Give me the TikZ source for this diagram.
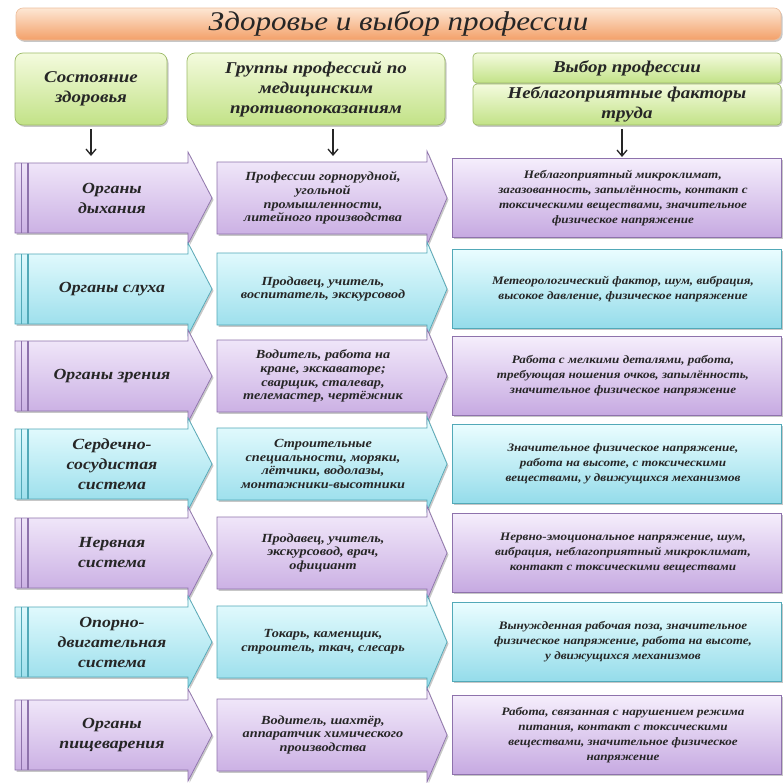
\documentclass[tikz,border=0pt]{standalone}
\usepackage{fontspec}
\setmainfont{Liberation Serif}[FakeStretch=1.15]
\usetikzlibrary{arrows.meta,shadows}
\definecolor{purT}{HTML}{F5EEFC}
\definecolor{purB}{HTML}{C6A9E1}
\definecolor{purD}{HTML}{8E72AC}
\definecolor{cyaT}{HTML}{EAFDFF}
\definecolor{cyaB}{HTML}{94DCEA}
\definecolor{cyaD}{HTML}{52A9B8}
\definecolor{grnT}{HTML}{F4FBDE}
\definecolor{grnB}{HTML}{C2E287}
\definecolor{grnD}{HTML}{9DBB68}
\definecolor{orgT}{HTML}{FDE7D4}
\definecolor{orgB}{HTML}{F3A069}
\definecolor{orgD}{HTML}{EDBE9C}
\definecolor{txt}{HTML}{262626}
\tikzset{
  sh/.style={drop shadow={shadow xshift=1.5pt,shadow yshift=-1.8pt,fill=black,opacity=.22}},
  rowpur/.style={top color=purT,bottom color=purB,draw=purD,line width=0.7pt},
  rowcya/.style={top color=cyaT,bottom color=cyaB,draw=cyaD,line width=0.7pt},
  linepur/.style={draw=purD,line width=1.1pt},
  linecya/.style={draw=cyaD,line width=1.1pt},
  hdr/.style={rounded corners=8pt,top color=grnT,bottom color=grnB,draw=grnD,line width=0.7pt,sh,
    font=\bfseries\itshape\fontsize{16.5}{20}\selectfont,align=center,text=txt,inner sep=2pt},
  ttl/.style={rounded corners=7pt,top color=orgT,bottom color=orgB,draw=orgD,line width=0.6pt,sh,
    font=\itshape\fontsize{27}{30}\selectfont,text=black!85},
  lt/.style={font=\bfseries\itshape\fontsize{15.5}{20}\selectfont,text=txt,align=center},
  mt/.style={font=\bfseries\itshape\fontsize{12.4}{13.8}\selectfont,text=txt,align=center},
  rt/.style={font=\bfseries\itshape\fontsize{11.4}{15}\selectfont,text=txt,align=center},
  arr/.style={-{Straight Barb[length=6pt,width=10pt]},line width=1.3pt,black!85}
}
\newcommand\mkrow[6]{%
  \path[row#3,sh] (15,#2-35) -- (188,#2-35) -- (188,#2-46) -- (212,#2) -- (188,#2+46) -- (188,#2+35) -- (15,#2+35) -- cycle;
  \draw[line#3] (21.5,#2-35) -- (21.5,#2+35);
  \draw[line#3] (28,#2-35) -- (28,#2+35);
  \path[row#3,sh] (217,#2-36) -- (427,#2-36) -- (427,#2-47) -- (447,#2) -- (427,#2+47) -- (427,#2+36) -- (217,#2+36) -- cycle;
  \path[row#3,sh] (452,#2-39.5) rectangle (781,#2+39.5);
  \node[lt] (L#1) at (112,#2) {#4};
  \node[mt] (M#1) at (323,#2) {#5};
  \node[rt] (R#1) at (623,#2) {#6};
}
\begin{document}
\begin{tikzpicture}[x=1pt,y=-1pt]
\useasboundingbox[fill=white] (0,0) rectangle (783,782);
% title
\node[ttl,minimum width=765pt,minimum height=32pt] (T) at (398.5,24) {Здоровье и выбор профессии};
% headers
\node[hdr,minimum width=152pt,minimum height=72pt] (h1) at (91,89) {Состояние\\здоровья};
\node[hdr,minimum width=258pt,minimum height=72pt] (h2) at (316,89) {Группы профессий по\\медицинским\\противопоказаниям};
\node[hdr,rounded corners=4pt,minimum width=308pt,minimum height=30pt] (h3a) at (627,68) {Выбор профессии};
\node[hdr,rounded corners=4pt,minimum width=308pt,minimum height=41pt] (h3b) at (627,104.5) {Неблагоприятные факторы\\труда};
% rows
\mkrow{1}{198}{pur}{Органы\\дыхания}{Профессии горнорудной,\\угольной\\промышленности,\\литейного производства}{Неблагоприятный микроклимат,\\загазованность, запылённость, контакт с\\токсическими веществами, значительное\\физическое напряжение}
\mkrow{2}{289}{cya}{Органы слуха}{Продавец, учитель,\\воспитатель, экскурсовод}{Метеорологический фактор, шум, вибрация,\\высокое давление, физическое напряжение}
\mkrow{3}{376}{pur}{Органы зрения}{Водитель, работа на\\кране, экскаваторе;\\сварщик, сталевар,\\телемастер, чертёжник}{Работа с мелкими деталями, работа,\\требующая ношения очков, запылённость,\\значительное физическое напряжение}
\mkrow{4}{464}{cya}{Сердечно-\\сосудистая\\система}{Строительные\\специальности, моряки,\\лётчики, водолазы,\\монтажники-высотники}{Значительное физическое напряжение,\\работа на высоте, с токсическими\\веществами, у движущихся механизмов}
\mkrow{5}{553}{pur}{Нервная\\система}{Продавец, учитель,\\экскурсовод, врач,\\официант}{Нервно-эмоциональное напряжение, шум,\\вибрация, неблагоприятный микроклимат,\\контакт с токсическими веществами}
\mkrow{6}{642}{cya}{Опорно-\\двигательная\\система}{Токарь, каменщик,\\строитель, ткач, слесарь}{Вынужденная рабочая поза, значительное\\физическое напряжение, работа на высоте,\\у движущихся механизмов}
\mkrow{7}{735}{pur}{Органы\\пищеварения}{Водитель, шахтёр,\\аппаратчик химического\\производства}{Работа, связанная с нарушением режима\\питания, контакт с токсическими\\веществами, значительное физическое\\напряжение}
% arrows
\coordinate (e1) at (91,156);
\coordinate (e2) at (333,156);
\coordinate (e3) at (622,157);
\draw[arr] ([yshift=-4pt]h1.south) -- (e1);
\draw[arr] ([xshift=17pt,yshift=-4pt]h2.south) -- (e2);
\draw[arr] ([xshift=-5pt,yshift=-4pt]h3b.south) -- (e3);
\end{tikzpicture}
\end{document}
